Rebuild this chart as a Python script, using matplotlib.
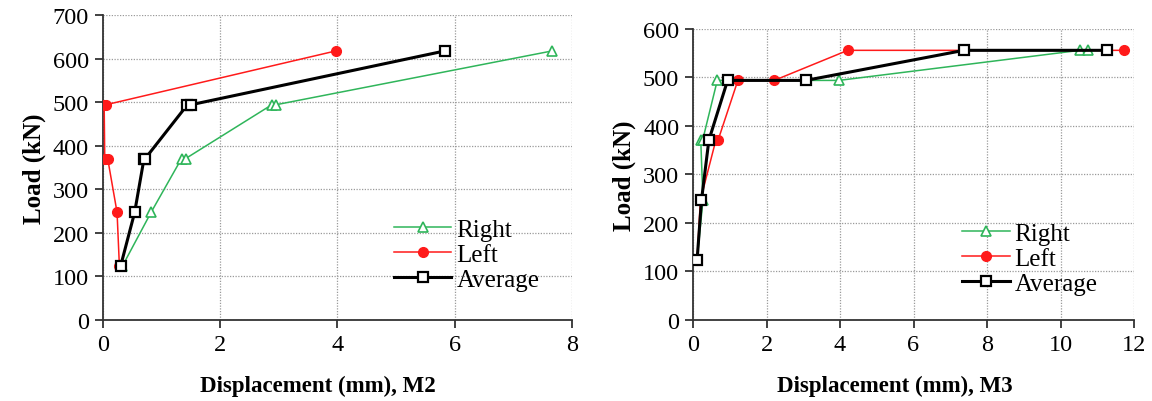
import matplotlib
matplotlib.use("Agg")
import matplotlib.pyplot as plt

# M2 data (load in kN, displacement in mm)
m2_right_x = [0.33, 0.82, 1.34, 1.41, 2.88, 2.95, 7.66]
m2_right_y = [123.5, 247, 370.5, 370.5, 494, 494, 617.5]
m2_left_x = [0.28, 0.24, 0.08, 0.03, 0.02, 0.05, 3.97]
m2_left_y = [123.5, 247, 370.5, 370.5, 494, 494, 617.5]
m2_avg_x = [0.30, 0.54, 0.70, 0.72, 1.44, 1.50, 5.83]
m2_avg_y = [123.5, 247, 370.5, 370.5, 494, 494, 617.5]

# M3 data
m3_right_x = [0.11, 0.27, 0.21, 0.26, 0.66, 3.97, 10.53, 10.76]
m3_right_y = [123.5, 247, 370.5, 370.5, 494, 494, 556, 556]
m3_left_x = [0.11, 0.20, 0.62, 0.68, 1.22, 2.21, 4.21, 11.74]
m3_left_y = [123.5, 247, 370.5, 370.5, 494, 494, 556, 556]
m3_avg_x = [0.11, 0.23, 0.43, 0.94, 3.07, 7.37, 11.26]
m3_avg_y = [123.5, 247, 370.5, 494, 494, 556, 556]

GREEN = "#2fb55a"
RED = "#ff1a1a"
SERIF = ["Liberation Serif", "DejaVu Serif"]


def dibujar(ax, datos, xmax, xstep, ymax, xlabel, xlab_pos, leg_pos, hlen):
    (rx, ry), (lx, ly), (ax_, ay) = datos
    ax.plot(rx, ry, color=GREEN, lw=1.1, marker="^", ms=7, mfc="white",
            mec=GREEN, mew=1.2, label="Right", zorder=3)
    ax.plot(lx, ly, color=RED, lw=1.1, marker="o", ms=7, mfc=RED,
            mec=RED, label="Left", zorder=3)
    ax.plot(ax_, ay, color="black", lw=2.2, marker="s", ms=7.5, mfc="white",
            mec="black", mew=1.6, label="Average", zorder=4)

    ax.set_xlim(0, xmax)
    ax.set_ylim(0, ymax)
    ax.set_xticks(range(0, xmax + 1, xstep))
    ax.set_yticks(range(0, ymax + 1, 100))
    ax.grid(True, color="#9a9a9a", ls=(0, (1, 1.2)), lw=0.9)
    ax.set_axisbelow(True)
    for s in ["top", "right"]:
        ax.spines[s].set_visible(False)
    for s in ["left", "bottom"]:
        ax.spines[s].set_color("#333333")
        ax.spines[s].set_linewidth(1.3)
    ax.tick_params(direction="out", length=6, width=1.3, color="#333333",
                   labelsize=17.5, pad=4)
    for lab in ax.get_xticklabels() + ax.get_yticklabels():
        lab.set_family(SERIF)
    ax.set_xlabel(xlabel, family=SERIF, fontsize=16.5, fontweight="bold")
    ax.xaxis.set_label_coords(*xlab_pos)
    ax.set_ylabel("Load (kN)", family=SERIF, fontsize=18, fontweight="bold", labelpad=5)
    ax.legend(loc="center left", bbox_to_anchor=leg_pos, frameon=False,
              prop={"family": SERIF, "size": 18}, handlelength=hlen,
              handletextpad=0.2, labelspacing=0.1, borderpad=0, borderaxespad=0)


fig = plt.figure(figsize=(11.52, 4.02), dpi=100)
ax1 = fig.add_axes([0.0894, 0.2015, 0.4071, 0.7587])
ax2 = fig.add_axes([0.6016, 0.2015, 0.3828, 0.7239])

dibujar(ax1, [(m2_right_x, m2_right_y), (m2_left_x, m2_left_y), (m2_avg_x, m2_avg_y)],
        8, 2, 700, "Displacement (mm), M2", (0.458, -0.18), (0.62, 0.215), 2.3)
dibujar(ax2, [(m3_right_x, m3_right_y), (m3_left_x, m3_left_y), (m3_avg_x, m3_avg_y)],
        12, 2, 600, "Displacement (mm), M3", (0.458, -0.188), (0.61, 0.21), 1.9)

fig.savefig("out.png", dpi=100)
